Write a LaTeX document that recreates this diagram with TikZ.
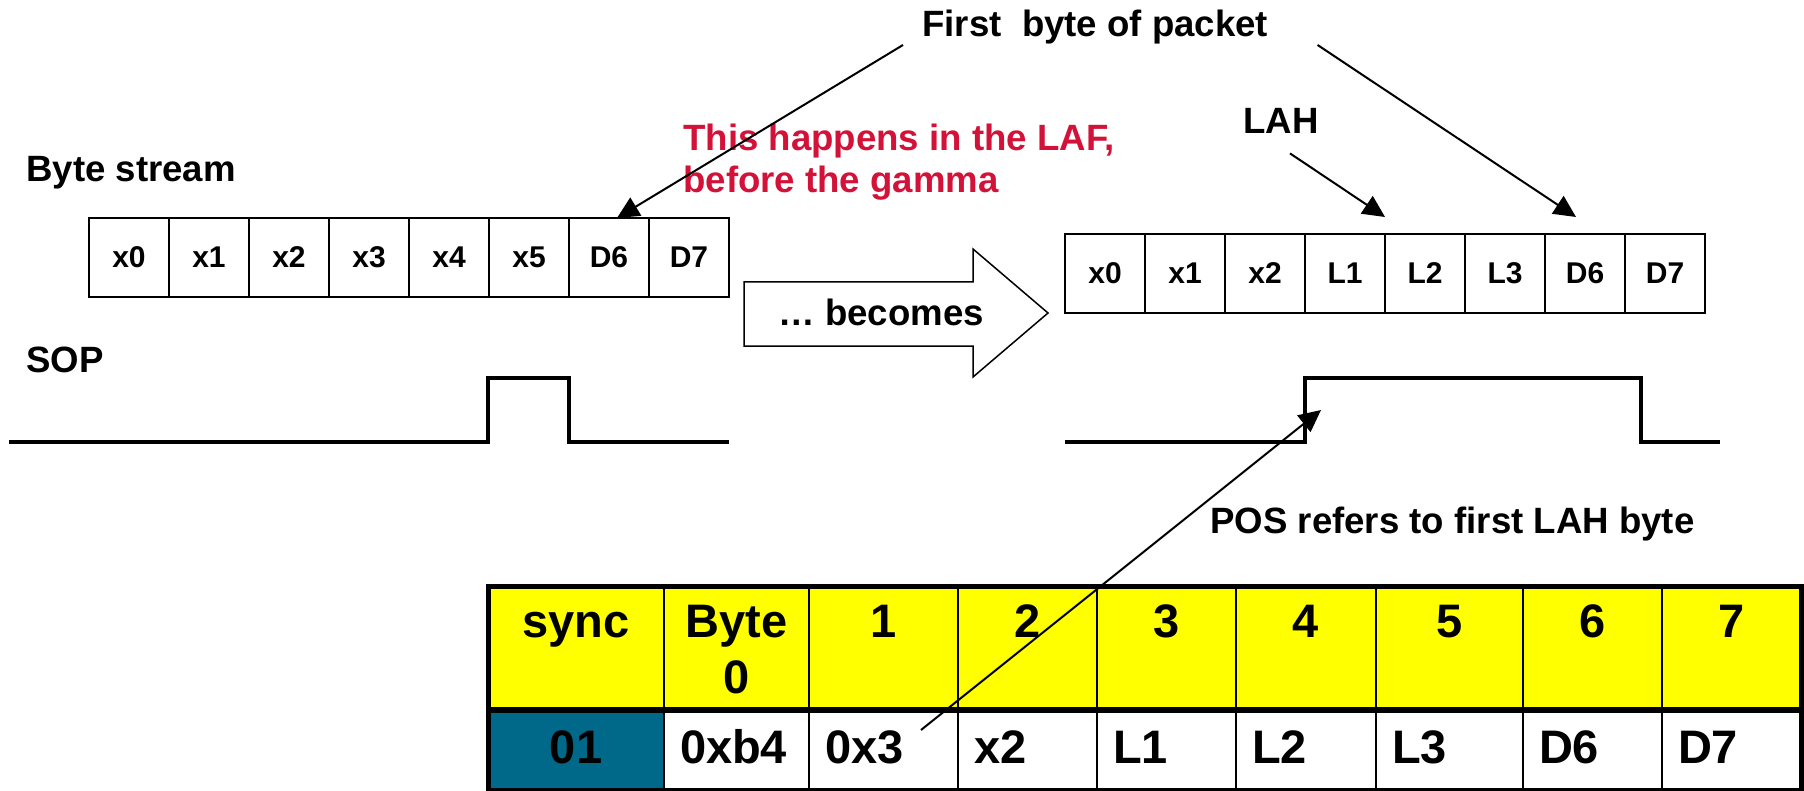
\documentclass[tikz,border=0pt]{standalone}
\usepackage{fontspec}
\setmainfont{Liberation Sans}
\usetikzlibrary{arrows.meta,positioning}
\definecolor{lafred}{RGB}{210,18,56}
\definecolor{synccol}{RGB}{0,104,136}
\definecolor{hdryellow}{RGB}{255,255,0}

\begin{document}
\begin{tikzpicture}[x=0.5pt,y=-0.5pt,
  lbl/.style={font=\fontsize{18.3}{21}\selectfont\bfseries,inner sep=0pt,anchor=base west},
  bytecell/.style={draw,line width=1.1pt,minimum width=40pt,minimum height=39.5pt,inner sep=0pt,
    outer sep=0pt,font=\fontsize{15}{18}\selectfont\bfseries},
  hdr/.style={draw,line width=1.2pt,fill=hdryellow,inner sep=0pt,outer sep=0pt,minimum width=#1,
    text height=25.75pt,text depth=36.25pt,font=\fontsize{23.5}{28}\selectfont\bfseries},
  dat/.style={draw,line width=1.2pt,inner xsep=8pt,inner ysep=0pt,outer sep=0pt,text width=#1,
    align=left,text height=26.5pt,text depth=13.5pt,font=\fontsize{23.5}{28}\selectfont\bfseries},
  ptr/.style={-{Triangle[length=11pt,width=10.5pt]},line width=1pt},
  wave/.style={line width=2pt}
]
  \useasboundingbox (0,0) rectangle (1804,791);

  % Labels
  \node[lbl] (fb) at (922,37) {First~ byte of packet};
  \node[lbl] (bstream) at (26,182) {Byte stream};
  \node[lbl] (sop) at (26,372) {SOP};
  \node[lbl] (lah) at (1243,134) {LAH};
  \node[lbl] (pos) at (1210,533) {POS refers to first LAH byte};
  \node[lbl,lafred,anchor=north west,align=left] (laf) at (683,124) {This happens in the LAF,\\before the gamma};

  % Byte stream in
  \node[bytecell] (b0) at (129,257.5) {x0};
  \node[bytecell,right=0pt of b0] (b1) {x1};
  \node[bytecell,right=0pt of b1] (b2) {x2};
  \node[bytecell,right=0pt of b2] (b3) {x3};
  \node[bytecell,right=0pt of b3] (b4) {x4};
  \node[bytecell,right=0pt of b4] (b5) {x5};
  \node[bytecell,right=0pt of b5] (b6) {D6};
  \node[bytecell,right=0pt of b6] (b7) {D7};

  % SOP in
  \draw[wave] (9,442) -- (488,442) -- (488,378) -- (569,378) -- (569,442) -- (729,442);

  % Big arrow
  \draw[line width=0.75pt] (744,282) -- (973,282) -- (973,249) -- (1048,313) -- (973,377)
    -- (973,346) -- (744,346) -- cycle;
  \node[lbl] (becomes) at (778,325) {… becomes};

  % Byte stream out
  \node[bytecell] (c0) at (1105,273.5) {x0};
  \node[bytecell,right=0pt of c0] (c1) {x1};
  \node[bytecell,right=0pt of c1] (c2) {x2};
  \node[bytecell,right=0pt of c2] (c3) {L1};
  \node[bytecell,right=0pt of c3] (c4) {L2};
  \node[bytecell,right=0pt of c4] (c5) {L3};
  \node[bytecell,right=0pt of c5] (c6) {D6};
  \node[bytecell,right=0pt of c6] (c7) {D7};

  % SOP out
  \draw[wave] (1065,442) -- (1305,442) -- (1305,378) -- (1641,378) -- (1641,442) -- (1720,442);
  \coordinate (rise) at (1321,410);

  % Header row
  \node[hdr=88pt,anchor=north west] (h0) at (488,586) {sync};
  \node[hdr=72.5pt,right=0pt of h0] (h1) {\begin{tabular}[t]{@{}c@{}}Byte\\0\end{tabular}};
  \node[hdr=74.5pt,right=0pt of h1] (h2) {1};
  \node[hdr=69.5pt,right=0pt of h2] (h3) {2};
  \node[hdr=69.5pt,right=0pt of h3] (h4) {3};
  \node[hdr=70pt,right=0pt of h4] (h5) {4};
  \node[hdr=73.5pt,right=0pt of h5] (h6) {5};
  \node[hdr=69.5pt,right=0pt of h6] (h7) {6};
  \node[hdr=69.5pt,right=0pt of h7] (h8) {7};

  % Data row
  \node[dat=72pt,fill=synccol,align=center,below=0pt of h0] (d0) {01};
  \node[dat=56.5pt,below=0pt of h1] (d1) {0xb4};
  \node[dat=58.5pt,below=0pt of h2] (d2) {0x3};
  \node[dat=53.5pt,below=0pt of h3] (d3) {x2};
  \node[dat=53.5pt,below=0pt of h4] (d4) {L1};
  \node[dat=54pt,below=0pt of h5] (d5) {L2};
  \node[dat=57.5pt,below=0pt of h6] (d6) {L3};
  \node[dat=53.5pt,below=0pt of h7] (d7) {D6};
  \node[dat=53.5pt,below=0pt of h8] (d8) {D7};

  % Table border
  \draw[line width=2.5pt] (h0.north west) rectangle (d8.south east);
  \draw[line width=3pt] (h0.south west) -- (h8.south east);

  % Pointers
  \draw[ptr] ([xshift=-9.5pt]fb.south west) -- ([xshift=4pt]b6.north);
  \draw[ptr] ([xshift=24.5pt]fb.south east) -- ([xshift=-4.5pt,yshift=8.5pt]c6.north);
  \draw[ptr] ([xshift=4.5pt,yshift=-9.5pt]lah.south) -- ([yshift=8.5pt]c3.north east);
  \draw[ptr] ([xshift=-18.5pt,yshift=-10pt]d2.north east) -- (rise);
\end{tikzpicture}
\end{document}
